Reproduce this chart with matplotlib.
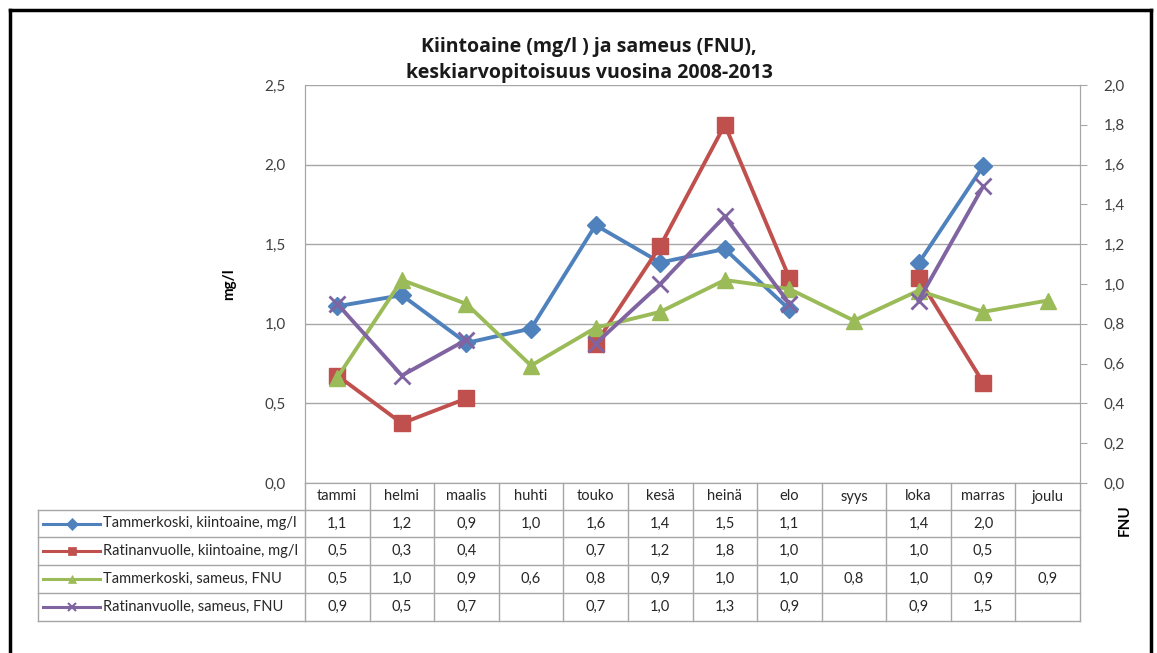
import numpy as np
import matplotlib
matplotlib.use("Agg")
import matplotlib.pyplot as plt
from matplotlib.transforms import blended_transform_factory
from matplotlib.lines import Line2D

plt.rcParams['font.family'] = ['Lato', 'DejaVu Sans']

months = ["tammi", "helmi", "maalis", "huhti", "touko", "kesä", "heinä",
          "elo", "syys", "loka", "marras", "joulu"]
nan = np.nan
tammerkoski_kiintoaine = [1.11, 1.18, 0.88, 0.97, 1.62, 1.385, 1.47, 1.09, nan, 1.38, 1.99, nan]
ratinanvuolle_kiintoaine = [0.54, 0.30, 0.425, nan, 0.70, 1.19, 1.80, 1.03, nan, 1.03, 0.505, nan]
tammerkoski_sameus = [0.53, 1.02, 0.90, 0.59, 0.78, 0.86, 1.02, 0.975, 0.816, 0.967, 0.86, 0.917]
ratinanvuolle_sameus = [0.90, 0.54, 0.72, nan, 0.70, 1.00, 1.34, 0.90, nan, 0.917, 1.49, nan]

series_labels = ["Tammerkoski, kiintoaine, mg/l", "Ratinanvuolle, kiintoaine, mg/l",
                 "Tammerkoski, sameus, FNU", "Ratinanvuolle, sameus, FNU"]
series_values = [tammerkoski_kiintoaine, ratinanvuolle_kiintoaine,
                 tammerkoski_sameus, ratinanvuolle_sameus]
series_on_right = [False, True, True, True]
colors = ["#4F81BD", "#C0504D", "#9BBB59", "#8064A2"]
markers = ["D", "s", "^", "x"]
msizes = [9, 11, 11, 11]

left_ticks = [0.0, 0.5, 1.0, 1.5, 2.0, 2.5]
right_ticks = [0.0, 0.2, 0.4, 0.6, 0.8, 1.0, 1.2, 1.4, 1.6, 1.8, 2.0]

W, H = 1157, 653
fig = plt.figure(figsize=(W / 100, H / 100), dpi=100)
fig.patch.set_facecolor("white")

ax = fig.add_axes([305 / W, 1 - 483 / H, (1080 - 305) / W, (483 - 85) / H])
ax2 = ax.twinx()
x = np.arange(len(months))
ax.set_xlim(-0.5, len(months) - 0.5)
ax.set_ylim(0, 2.5)
ax2.set_ylim(0, 2.0)

grid_c = "#A6A6A6"
ax.set_yticks(left_ticks)
ax.set_yticklabels([f"{t:.1f}".replace(".", ",") for t in left_ticks], fontsize=11, color="#404040")
ax.yaxis.grid(True, color=grid_c, lw=1.0)
ax.set_axisbelow(True)
ax.tick_params(axis="y", length=0, pad=14)
ax.set_xticks([])
ax2.set_yticks(right_ticks)
ax2.set_yticklabels([f"{t:.1f}".replace(".", ",") for t in right_ticks], fontsize=11, color="#404040")
ax2.tick_params(axis="y", length=5, color=grid_c, pad=12)
for a in (ax, ax2):
    a.spines["top"].set_visible(False)
    a.spines["left"].set_color(grid_c)
    a.spines["right"].set_color(grid_c)
    a.spines["bottom"].set_color(grid_c)

ax.set_ylabel("mg/l", fontsize=11, fontweight="bold", labelpad=20)
fig.text(1125 / W, 1 - 520 / H, "FNU", rotation=90, fontsize=11, fontweight="bold",
         ha="center", va="center")

for vals, right, c, m, ms in zip(series_values, series_on_right, colors, markers, msizes):
    a = ax2 if right else ax
    mew = 2.0 if m == "x" else 1.0
    a.plot(x, vals, color=c, lw=2.8, marker=m, markersize=ms, markeredgewidth=mew,
           markerfacecolor=c, markeredgecolor=c, zorder=3)

title_kw = dict(ha="center", va="center", fontsize=14, fontweight="bold", color="#1a1a1a",
                family=["Open Sans", "DejaVu Sans"])
fig.text(589 / W, 1 - 47 / H, "Kiintoaine (mg/l ) ja sameus (FNU),", **title_kw)
fig.text(589 / W, 1 - 73 / H, "keskiarvopitoisuus vuosina 2008-2013", **title_kw)

# data table below the chart
trans = blended_transform_factory(ax.transData, fig.transFigure)
row_edges = [1 - p / H for p in (483, 510, 537, 565, 593, 621)]
bounds = np.arange(len(months) + 1) - 0.5
ax_left = ax.get_position().x0
leg_left = 38 / W
tc = grid_c
tkw = dict(color=tc, lw=1.0, clip_on=False)
tfs = 10.5

# header row
for b in bounds:
    ax.plot([b, b], [row_edges[0], row_edges[1]], transform=trans, **tkw)
for i, mname in enumerate(months):
    ax.text(x[i], (row_edges[0] + row_edges[1]) / 2, mname, transform=trans, ha="center",
            va="center", fontsize=tfs, color="#262626")
# body rows
for ye in row_edges[1:]:
    ax.plot([bounds[0], bounds[-1]], [ye, ye], transform=trans, **tkw)
    fig.add_artist(Line2D([leg_left, ax_left], [ye, ye], color=tc, lw=1.0))
for b in bounds:
    ax.plot([b, b], [row_edges[1], row_edges[-1]], transform=trans, **tkw)
fig.add_artist(Line2D([leg_left, leg_left], [row_edges[1], row_edges[-1]], color=tc, lw=1.0))

for r, (lab, vals, c, m) in enumerate(zip(series_labels, series_values, colors, markers)):
    yc = (row_edges[r + 1] + row_edges[r + 2]) / 2
    for i, v in enumerate(vals):
        if not np.isnan(v):
            ax.text(x[i], yc, f"{v:.1f}".replace(".", ","), transform=trans, ha="center",
                    va="center", fontsize=tfs, color="#262626")
    fig.add_artist(Line2D([43 / W, 100 / W], [yc, yc], color=c, lw=2.2))
    fig.add_artist(Line2D([71.5 / W], [yc], color=c, marker=m, markersize=6,
                          markeredgewidth=1.5 if m == "x" else 0.5, markerfacecolor=c,
                          markeredgecolor=c, lw=0))
    fig.text(103 / W, yc, lab, ha="left", va="center", fontsize=tfs, color="#262626")

# outer frame
fig.add_artist(Line2D([10 / W, 10 / W], [0, 1 - 10 / H], color="black", lw=2.5))
fig.add_artist(Line2D([1151 / W, 1151 / W], [0, 1 - 10 / H], color="black", lw=2.5))
fig.add_artist(Line2D([10 / W, 1151 / W], [1 - 10 / H, 1 - 10 / H], color="black", lw=2.5))

fig.savefig("out.png", dpi=100)
